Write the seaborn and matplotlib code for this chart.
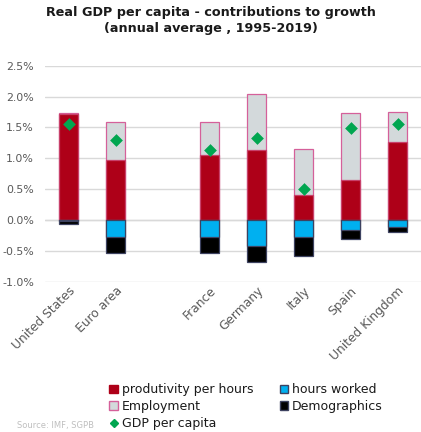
import matplotlib
matplotlib.use("Agg")
import matplotlib.pyplot as plt
from matplotlib.patches import Patch
from matplotlib.lines import Line2D
import seaborn as sns
import pandas as pd

# Contributions to annual real GDP per capita growth, 1995-2019 (%)
countries = ["United States", "Euro area", "France", "Germany", "Italy", "Spain", "United Kingdom"]
productivity = [1.71, 0.97, 1.05, 1.13, 0.41, 0.64, 1.26]
employment = [0.03, 0.62, 0.53, 0.91, 0.74, 1.09, 0.49]
hours_worked = [-0.02, -0.27, -0.28, -0.42, -0.28, -0.16, -0.11]
demographics = [-0.05, -0.27, -0.26, -0.26, -0.30, -0.15, -0.08]
gdp_per_capita = [1.56, 1.29, 1.13, 1.32, 0.50, 1.49, 1.56]
y_ticks = [-1.0, -0.5, 0.0, 0.5, 1.0, 1.5, 2.0, 2.5]

# a blank slot separates the aggregates from the individual countries
order = ["United States", "Euro area", " ", "France", "Germany", "Italy", "Spain", "United Kingdom"]

df = pd.DataFrame({
    "country": countries,
    "prod": productivity,
    "emp": employment,
    "hours": hours_worked,
    "demo": demographics,
    "gdp": gdp_per_capita,
})
df["pos_top"] = df["prod"] + df["emp"]
df["neg_bottom"] = df["hours"] + df["demo"]

sns.set_theme(style="white")
plt.rcParams["font.family"] = ["DejaVu Sans"]
plt.rcParams["axes.unicode_minus"] = False

RED = "#AE0018"
BLUE = "#00B0F0"
GREY = "#D3D9DB"
BLACK = "#000000"
GREEN = "#00A650"
PINK = "#D5609A"
DARK_EDGE = "#3D4260"

fig = plt.figure(figsize=(4.21, 4.32), dpi=100)
ax = fig.add_axes([0.107, 0.348, 0.893, 0.500])

bw = 0.42
common = dict(data=df, x="country", order=order, width=bw, ax=ax, errorbar=None, linewidth=0.9)
# positive side: employment stacked on productivity
sns.barplot(y="pos_top", color=GREY, edgecolor=PINK, saturation=1, **common)
sns.barplot(y="prod", color=RED, edgecolor="#C8416A", saturation=1, **common)
# negative side: demographics stacked below hours worked
sns.barplot(y="neg_bottom", color=BLACK, edgecolor=DARK_EDGE, saturation=1, **common)
sns.barplot(y="hours", color=BLUE, edgecolor=DARK_EDGE, saturation=1, **common)

sns.stripplot(data=df, x="country", y="gdp", order=order, jitter=False, marker="D",
              color=GREEN, size=6.5, linewidth=0, ax=ax, zorder=5)

ax.set_xlim(-0.5, 7.5)
ax.set_ylim(-1.0, 2.5)
ax.set_yticks(y_ticks)
ax.set_yticklabels([f"{v:.1f}%" for v in y_ticks], color="#595959", fontsize=7.9)
ax.yaxis.grid(True, color="#D9D9D9", linewidth=1)
ax.set_axisbelow(True)
for s in ax.spines.values():
    s.set_visible(False)
ax.tick_params(axis="y", length=0, pad=8)
ax.tick_params(axis="x", length=0, pad=2)
ax.set_xlabel("")
ax.set_ylabel("")
ax.set_xticks(range(len(order)))
ax.set_xticklabels(order, rotation=45, ha="right", rotation_mode="anchor",
                   color="#595959", fontsize=8.8)
ax.axhline(0, color="#D9D9D9", linewidth=1, zorder=0)

fig.text(0.5, 0.952, "Real GDP per capita - contributions to growth\n(annual average , 1995-2019)",
         ha="center", va="center", fontsize=9.2, fontweight="bold", color="#1A1A1A",
         linespacing=1.25)

handles = [
    Patch(facecolor=RED, edgecolor=RED, label="produtivity per hours"),
    Patch(facecolor=GREY, edgecolor=PINK, label="Employment"),
    Line2D([], [], marker="D", linestyle="", color=GREEN, markersize=4, label="GDP per capita"),
    Patch(facecolor=BLUE, edgecolor=DARK_EDGE, label="hours worked"),
    Patch(facecolor=BLACK, edgecolor=DARK_EDGE, label="Demographics"),
]
fig.legend(handles=handles, loc="upper left", bbox_to_anchor=(0.245, 0.127), ncol=2,
           frameon=False, fontsize=9, handlelength=0.7, handleheight=0.7,
           handletextpad=0.3, columnspacing=2.1, labelspacing=0.3, borderpad=0,
           labelcolor="#1A1A1A")

fig.text(0.04, 0.016, "Source: IMF, SGPB", fontsize=6, color="#BFBFBF", ha="left", va="center")

fig.savefig("out.png", dpi=100)
